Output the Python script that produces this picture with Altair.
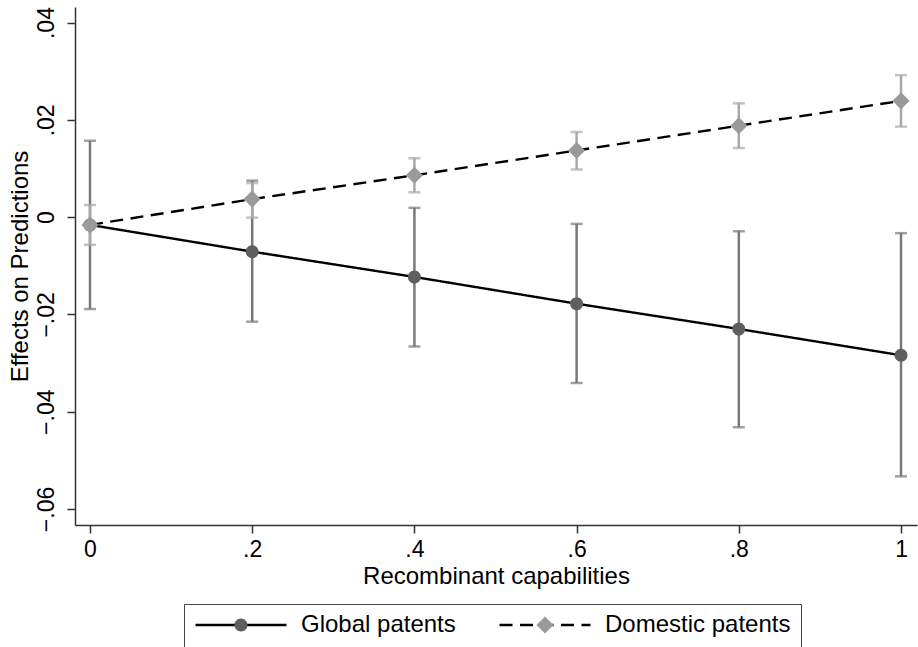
import altair as alt
import pandas as pd

# ---- data ----
x_vals = [0, 0.2, 0.4, 0.6, 0.8, 1.0]
global_est = [-0.0016, -0.0071, -0.0123, -0.0178, -0.0230, -0.0284]
global_lo = [-0.0189, -0.0215, -0.0266, -0.0341, -0.0432, -0.0533]
global_hi = [0.0157, 0.0075, 0.0019, -0.0014, -0.0029, -0.0033]
dom_est = [-0.0016, 0.0037, 0.0086, 0.0137, 0.0188, 0.0239]
dom_lo = [-0.0057, -0.0001, 0.0051, 0.0098, 0.0142, 0.0186]
dom_hi = [0.0025, 0.0070, 0.0121, 0.0175, 0.0234, 0.0292]
series_names = ["Global patents", "Domestic patents"]
x_ticks = [0, 0.2, 0.4, 0.6, 0.8, 1.0]
y_ticks = [-0.06, -0.04, -0.02, 0, 0.02, 0.04]

ZW = "\u200b"  # keeps the marker legend's domain distinct from the line legend's
marker_names = [s + ZW for s in series_names]

rows = []
for name, est, lo, hi in [
    (series_names[0], global_est, global_lo, global_hi),
    (series_names[1], dom_est, dom_lo, dom_hi),
]:
    for xv, e, l, h in zip(x_vals, est, lo, hi):
        rows.append({"series": name, "marker": name + ZW, "x": xv, "est": e, "lo": l, "hi": h})
df = pd.DataFrame(rows)

FONT = "Liberation Sans"
LEG_SIZE = 8281  # 91 px wide legend key
CIRCLE = "M-1,0H1M0.143,0A0.143,0.143,0,1,1,-0.143,0A0.143,0.143,0,1,1,0.143,0Z"
DIAMOND = "M-1,0H1M0,-0.187L0.187,0L0,0.187L-0.187,0Z"

xscale = alt.Scale(domain=[-0.0185, 1.0197], nice=False, zero=False)
yscale = alt.Scale(domain=[-0.0633, 0.0432], nice=False, zero=False)

x_enc = alt.X(
    "x:Q",
    scale=xscale,
    axis=alt.Axis(
        values=x_ticks,
        title="Recombinant capabilities",
        labelExpr="datum.value == 0 ? '0' : datum.value == 1 ? '1' : replace(format(datum.value, '.1f'), '0.', '.')",
        labelBaseline="alphabetic",
        labelPadding=23,
        titleBaseline="alphabetic",
        titleY=58,
    ),
)
y_axis = alt.Axis(
    values=y_ticks,
    title="Effects on Predictions",
    labelExpr="datum.value == 0 ? '0' : replace(format(datum.value, '.2f'), '0.', '.')",
    labelAngle=270,
    labelAlign="center",
    labelBaseline="alphabetic",
    labelPadding=14,
    titleBaseline="alphabetic",
    titleAngle=270,
    titleX=-48,
    titleY=259,
)

common_leg = dict(
    title=None,
    orient="none",
    legendX=109,
    legendY=597,
    direction="horizontal",
    symbolSize=LEG_SIZE,
    symbolStrokeWidth=2.4,
    labelFont=FONT,
    labelFontSize=24,
    labelOffset=13,
    labelLimit=1000,
    columnPadding=42,
    padding=10,
    clipHeight=22,
)
marker_leg = dict(
    symbolStrokeColor="transparent",
    symbolOpacity=1,
    labelOpacity=0,
    zindex=1,
    **common_leg,
)

base = alt.Chart(df)

# error bars: one layer per series, plain colours, so no extra scale shares the series domain
def bars(name, colour):
    sub = base.transform_filter(alt.datum.series == name)
    rule = sub.mark_rule(strokeWidth=2.5, color=colour).encode(
        x=x_enc, y=alt.Y("lo:Q", scale=yscale, axis=y_axis), y2="hi:Q"
    )
    cap_lo = sub.mark_tick(orient="horizontal", size=12, thickness=2.5, color=colour).encode(
        x="x:Q", y="lo:Q"
    )
    cap_hi = sub.mark_tick(orient="horizontal", size=12, thickness=2.5, color=colour).encode(
        x="x:Q", y="hi:Q"
    )
    return [rule, cap_lo, cap_hi]

lines = base.mark_line(color="black", strokeWidth=2.4).encode(
    x="x:Q",
    y="est:Q",
    strokeDash=alt.StrokeDash(
        "series:N",
        scale=alt.Scale(domain=series_names, range=[[1, 0], [13, 7.5]]),
        legend=alt.Legend(
            symbolType="stroke",
            symbolStrokeColor="black",
            labelColor="black",
            strokeColor="#444444",
            **common_leg,
        ),
    ),
)

points = base.mark_point(
    filled=True, opacity=1, size=LEG_SIZE, strokeWidth=0
).encode(
    x="x:Q",
    y="est:Q",
    fill=alt.Fill(
        "marker:N",
        scale=alt.Scale(domain=marker_names, range=["#5f5f5f", "#9a9a9a"]),
        legend=alt.Legend(**marker_leg),
    ),
    shape=alt.Shape(
        "marker:N",
        scale=alt.Scale(domain=marker_names, range=[CIRCLE, DIAMOND]),
        legend=alt.Legend(**marker_leg),
    ),
)

chart = (
    alt.layer(*bars(series_names[0], "#787878"), *bars(series_names[1], "#a8a8a8"), lines, points)
    .properties(
        width=842,
        height=518,
        autosize=alt.AutoSizeParams(type="none"),
        padding={"left": 75, "top": 7, "right": 1, "bottom": 122},
        background="white",
    )
    .configure_view(stroke=None)
    .configure_axis(
        grid=False,
        domainColor="#333333",
        domainWidth=1.5,
        tickColor="#333333",
        tickWidth=1.5,
        tickSize=8,
        labelFont=FONT,
        labelFontSize=23,
        labelColor="black",
        titleFont=FONT,
        titleFontSize=24,
        titleFontWeight="normal",
        titleColor="black",
    )
)

chart.save("out.html", embed_options={"renderer": "svg", "actions": False})
